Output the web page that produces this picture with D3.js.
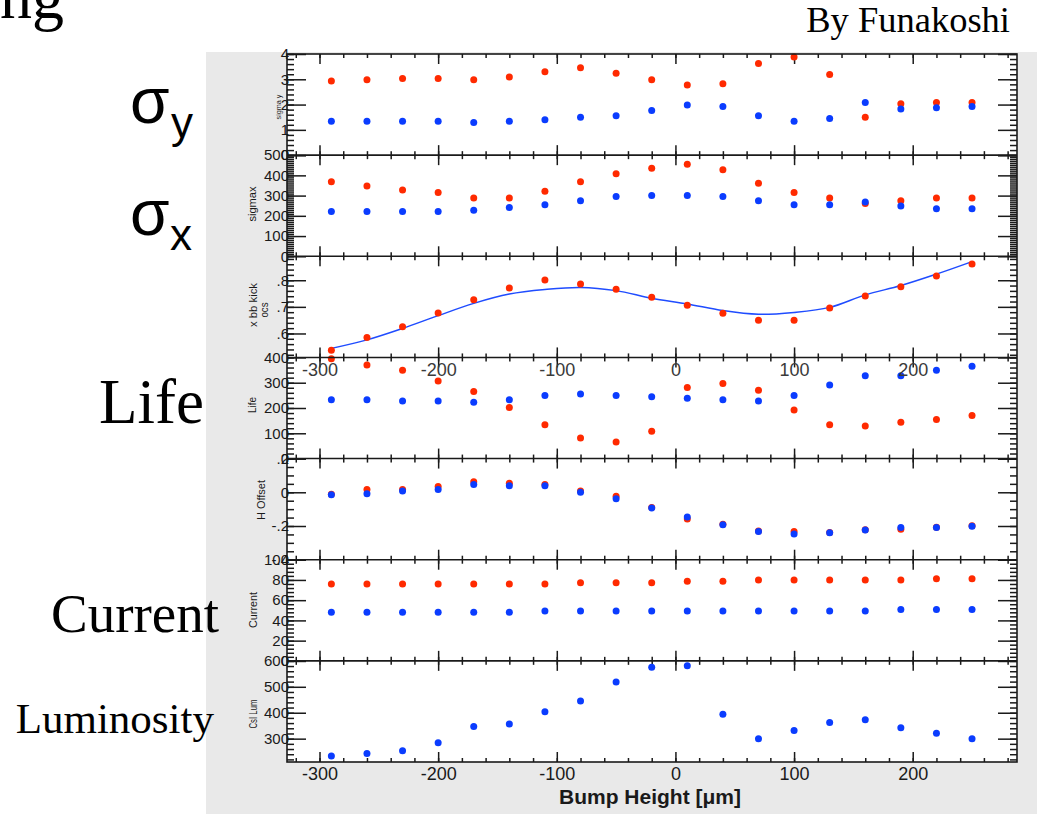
<!DOCTYPE html>
<html>
<head>
<meta charset="utf-8">
<script src="https://cdn.jsdelivr.net/npm/d3@7"></script>
<style>
  html, body { margin: 0; padding: 0; background: #fff; }
  svg { display: block; }
</style>
</head>
<body>
<svg id="chart" width="1037" height="814"></svg>
<script>
// Bump height scan (μm) shared by every panel
const bumpHeight = [-290, -260, -230, -200, -170, -140, -110, -80, -50, -20, 10, 40, 70, 100, 130, 160, 190, 220, 250];

// Vertical beam size
const sigmaYRed  = [2.93, 2.98, 3.03, 3.03, 2.98, 3.09, 3.30, 3.46, 3.24, 2.98, 2.77, 2.82, 3.62, 3.88, 3.19, 1.50, 2.03, 2.08, 2.08];
const sigmaYBlue = [1.34, 1.34, 1.34, 1.34, 1.29, 1.34, 1.40, 1.50, 1.56, 1.77, 1.98, 1.92, 1.56, 1.34, 1.45, 2.08, 1.82, 1.87, 1.92];

// Horizontal beam size
const sigmaXRed  = [368, 348, 328, 315, 288, 288, 321, 368, 408, 435, 455, 428, 361, 315, 288, 261, 275, 288, 288];
const sigmaXBlue = [221, 221, 221, 221, 228, 241, 255, 275, 295, 301, 301, 295, 275, 255, 255, 268, 248, 235, 235];

// x beam-beam kick (measured points and fitted curve)
const kickRed = [0.537, 0.585, 0.625, 0.677, 0.727, 0.771, 0.801, 0.786, 0.766, 0.736, 0.706, 0.676, 0.650, 0.650, 0.696, 0.741, 0.776, 0.816, 0.861];
const kickFit = [0.544, 0.576, 0.619, 0.667, 0.713, 0.748, 0.765, 0.773, 0.761, 0.732, 0.711, 0.686, 0.672, 0.679, 0.698, 0.745, 0.780, 0.823, 0.870];

// Beam lifetime
const lifeRed  = [395, 370, 349, 307, 265, 202, 134, 81, 66, 108, 281, 297, 270, 192, 134, 129, 144, 155, 170];
const lifeBlue = [233, 233, 228, 228, 223, 233, 249, 255, 249, 244, 239, 233, 228, 249, 291, 328, 328, 349, 365];

// Horizontal offset
const hOffsetRed  = [-0.012, 0.016, 0.016, 0.035, 0.062, 0.054, 0.046, 0.008, -0.023, -0.090, -0.158, -0.190, -0.230, -0.232, -0.238, -0.222, -0.220, -0.207, -0.199];
const hOffsetBlue = [-0.015, -0.008, 0.008, 0.016, 0.046, 0.039, 0.039, 0.000, -0.038, -0.093, -0.147, -0.193, -0.232, -0.247, -0.240, -0.224, -0.209, -0.209, -0.201];

// Beam current
const currentRed  = [76, 76, 76, 76, 76, 76, 76, 77.3, 77.3, 77.3, 78.7, 78.7, 80, 80, 80, 80, 80, 81.3, 81.3];
const currentBlue = [48, 48, 48, 48, 48, 48, 49.3, 49.3, 49.3, 49.3, 49.3, 49.3, 49.3, 49.3, 49.3, 49.3, 50.7, 50.7, 50.7];

// CsI luminosity monitor
const lumBlue = [233, 243, 253, 284, 347, 357, 404, 445, 518, 575, 581, 394, 300, 331, 362, 373, 342, 321, 300];

// Axis tick labels
const xTickValues = [-300, -200, -100, 0, 100, 200];
const xAxisTitle = "Bump Height [μm]";

// ---------------------------------------------------------------
const svg = d3.select("#chart");
const RED = "#ff2a00", BLUE = "#0a3cff", INK = "#1a1a1a";
const SANS = "'Liberation Sans', Arial, Helvetica, sans-serif";
const SERIF = "'Liberation Serif', 'Times New Roman', serif";

const frame = { left: 287, right: 1017, top: 54, bottom: 762 };
const nPanels = 7;
const ph = (frame.bottom - frame.top) / nPanels;

const x = d3.scaleLinear().domain([-327.4, 287.9]).range([frame.left, frame.right]);

// values that are multiples of step within a domain
function stepsIn(domain, step) {
  const lo = Math.min(domain[0], domain[1]), hi = Math.max(domain[0], domain[1]);
  const s = Math.ceil(lo / step - 1e-9), e = Math.floor(hi / step + 1e-9);
  return d3.range(s, e + 1).map(k => +(k * step).toFixed(6));
}
const intFmt = d => String(d);
const decFmt = d => d === 0 ? "0" : d3.format(".1f")(d).replace("−", "-").replace("0.", ".");

const panels = [
  { title: "sigma y",   domain: [0, 4],       major: 1,   minor: 0.2,  fmt: intFmt, red: sigmaYRed,  blue: sigmaYBlue,  tx: 278, ty: 107, tLen: 25, tSize: 8 },
  { title: "sigmax",    domain: [0, 500],     major: 100, minor: 10,   fmt: intFmt, red: sigmaXRed,  blue: sigmaXBlue,  tx: 252, ty: 204, tLen: 35, tSize: 11 },
  { title: "x bb kick", domain: [0.51, 0.89], major: 0.1, minor: 0.02, fmt: decFmt, red: kickRed,    fit: kickFit,      tx: 253, ty: 305, tLen: 44, tSize: 11, sub: "ocs", sx: 264, sy: 310, sLen: 15 },
  { title: "Life",      domain: [0, 400],     major: 100, minor: 20,   fmt: intFmt, red: lifeRed,    blue: lifeBlue,    tx: 252, ty: 405, tLen: 16, tSize: 11 },
  { title: "H Offset",  domain: [-0.4, 0.2],  major: 0.2, minor: 0.05, fmt: decFmt, red: hOffsetRed, blue: hOffsetBlue, tx: 261, ty: 500, tLen: 40, tSize: 11 },
  { title: "Current",   domain: [0, 100],     major: 20,  minor: 4,    fmt: intFmt, red: currentRed, blue: currentBlue, tx: 253, ty: 610, tLen: 36, tSize: 11 },
  { title: "CsI Lum",   domain: [210, 600],   major: 100, minor: 20,   fmt: intFmt, blue: lumBlue,                      tx: 253, ty: 714, tLen: 29, tSize: 10 }
];

// grey plot window
svg.append("rect").attr("x", 206).attr("y", 52).attr("width", 831).attr("height", 762).attr("fill", "#e9e9e9");
svg.append("rect")
  .attr("x", frame.left).attr("y", frame.top)
  .attr("width", frame.right - frame.left).attr("height", frame.bottom - frame.top)
  .attr("fill", "#fff");

const xMinor = d3.range(-320, 288, 20);

function styleAxis(sel, color) {
  sel.select(".domain").remove();
  sel.selectAll(".tick line").attr("stroke", color || INK).attr("stroke-width", 1.5);
}

panels.forEach((p, i) => {
  const top = frame.top + i * ph, bot = top + ph;
  const y = d3.scaleLinear().domain(p.domain).range([bot, top]);
  const g = svg.append("g").attr("class", "panel");

  // y axes, left (labelled) and right (ticks only)
  g.append("g").attr("transform", `translate(${frame.left},0)`)
    .call(d3.axisLeft(y).tickValues(stepsIn(p.domain, p.minor)).tickSize(-7).tickFormat(""))
    .call(styleAxis);
  g.append("g").attr("transform", `translate(${frame.left},0)`)
    .call(d3.axisLeft(y).tickValues(stepsIn(p.domain, p.major)).tickSize(-19).tickPadding(-2).tickFormat(p.fmt))
    .call(styleAxis)
    .attr("font-size", 15).attr("font-family", SANS).attr("color", INK);
  g.append("g").attr("transform", `translate(${frame.right},0)`)
    .call(d3.axisRight(y).tickValues(stepsIn(p.domain, p.minor)).tickSize(-7).tickFormat(""))
    .call(styleAxis);
  g.append("g").attr("transform", `translate(${frame.right},0)`)
    .call(d3.axisRight(y).tickValues(stepsIn(p.domain, p.major)).tickSize(-19).tickFormat(""))
    .call(styleAxis);

  // x ticks along the top and bottom edges of the panel, pointing inward
  g.append("g").attr("transform", `translate(0,${top})`)
    .call(d3.axisBottom(x).tickValues(xMinor).tickSize(4).tickFormat("")).call(styleAxis);
  g.append("g").attr("transform", `translate(0,${top})`)
    .call(d3.axisBottom(x).tickValues(xTickValues).tickSize(10).tickFormat("")).call(styleAxis);
  g.append("g").attr("transform", `translate(0,${bot})`)
    .call(d3.axisTop(x).tickValues(xMinor).tickSize(4).tickFormat("")).call(styleAxis);
  g.append("g").attr("transform", `translate(0,${bot})`)
    .call(d3.axisTop(x).tickValues(xTickValues).tickSize(10).tickFormat("")).call(styleAxis);

  // axis title
  g.append("text")
    .attr("transform", `translate(${p.tx},${p.ty}) rotate(-90)`)
    .attr("text-anchor", "middle").attr("dominant-baseline", "central")
    .attr("font-family", SANS).attr("font-size", p.tSize).attr("fill", INK)
    .attr("textLength", p.tLen).attr("lengthAdjust", "spacingAndGlyphs")
    .text(p.title);
  if (p.sub) {
    g.append("text")
      .attr("transform", `translate(${p.sx},${p.sy}) rotate(-90)`)
      .attr("text-anchor", "middle").attr("dominant-baseline", "central")
      .attr("font-family", SANS).attr("font-size", p.tSize).attr("fill", INK)
      .attr("textLength", p.sLen).attr("lengthAdjust", "spacingAndGlyphs")
      .text(p.sub);
  }

  // fitted curve
  if (p.fit) {
    const line = d3.line().x((d, k) => x(bumpHeight[k])).y(d => y(d)).curve(d3.curveCatmullRom.alpha(0.5));
    g.append("path").datum(p.fit).attr("d", line)
      .attr("fill", "none").attr("stroke", "#1f4cff").attr("stroke-width", 1.5);
  }
  // markers: red beneath, blue on top
  if (p.red) {
    g.append("g").selectAll("circle").data(p.red).join("circle")
      .attr("cx", (d, k) => x(bumpHeight[k])).attr("cy", d => y(d)).attr("r", 3.5).attr("fill", RED);
  }
  if (p.blue) {
    g.append("g").selectAll("circle").data(p.blue).join("circle")
      .attr("cx", (d, k) => x(bumpHeight[k])).attr("cy", d => y(d)).attr("r", 3.5).attr("fill", BLUE);
  }
});

// frame and panel separators
const sep = svg.append("g").attr("stroke", INK).attr("stroke-width", 1.6).attr("fill", "none");
sep.append("rect").attr("x", frame.left).attr("y", frame.top)
  .attr("width", frame.right - frame.left).attr("height", frame.bottom - frame.top);
sep.selectAll("line").data(d3.range(1, nPanels)).join("line")
  .attr("x1", frame.left).attr("x2", frame.right)
  .attr("y1", k => frame.top + k * ph).attr("y2", k => frame.top + k * ph);

// x tick labels under the kick panel and under the bottom panel
svg.append("g").attr("transform", `translate(0,${frame.top + 3 * ph})`)
  .call(d3.axisBottom(x).tickValues(xTickValues).tickSize(0).tickPadding(6).tickFormat(intFmt))
  .call(s => s.select(".domain").remove())
  .attr("font-size", 18).attr("font-family", SANS).attr("color", "#3a3a3a");
svg.append("g").attr("transform", `translate(0,${frame.bottom})`)
  .call(d3.axisBottom(x).tickValues(xTickValues).tickSize(0).tickPadding(5).tickFormat(intFmt))
  .call(s => s.select(".domain").remove())
  .attr("font-size", 18).attr("font-family", SANS).attr("color", INK);

svg.append("text").attr("x", 650).attr("y", 804).attr("text-anchor", "middle")
  .attr("font-family", SANS).attr("font-weight", "bold").attr("font-size", 21).attr("fill", INK)
  .text(xAxisTitle);

// slide annotations
svg.append("text").attr("x", 64).attr("y", 18).attr("text-anchor", "end")
  .attr("font-family", SERIF).attr("font-size", 64).attr("fill", "#000").text("ng");
svg.append("text").attr("x", 1010).attr("y", 32).attr("text-anchor", "end")
  .attr("font-family", SERIF).attr("font-size", 36.5).attr("fill", "#000").text("By Funakoshi");

const sigY = svg.append("text").attr("x", 130).attr("y", 123).attr("font-family", SANS).attr("fill", "#000");
sigY.append("tspan").attr("font-size", 64).text("σ");
sigY.append("tspan").attr("font-size", 44).attr("x", 171).attr("y", 138).text("y");
const sigX = svg.append("text").attr("x", 130).attr("y", 235).attr("font-family", SANS).attr("fill", "#000");
sigX.append("tspan").attr("font-size", 64).text("σ");
sigX.append("tspan").attr("font-size", 44).attr("x", 170).attr("y", 250).text("x");

const sideLabels = [
  { text: "Life", x: 204, y: 423, size: 63 },
  { text: "Current", x: 219, y: 632, size: 55 },
  { text: "Luminosity", x: 214, y: 733, size: 43 }
];
svg.append("g").selectAll("text").data(sideLabels).join("text")
  .attr("x", d => d.x).attr("y", d => d.y).attr("text-anchor", "end")
  .attr("font-family", SERIF).attr("font-size", d => d.size).attr("fill", "#000")
  .text(d => d.text);
</script>
</body>
</html>
